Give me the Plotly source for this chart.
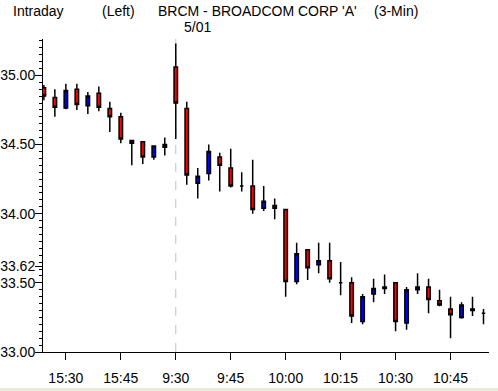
import plotly.graph_objects as go

# ---- data ----
idx = list(range(41))
opens = [34.91, 34.84, 34.765, 34.90, 34.78, 34.87, 34.76, 34.70, 34.53, 34.52, 34.41, 34.48,
         35.06, 34.76, 34.22, 34.29, 34.41, 34.33, 34.20, 34.20, 34.04, 34.06,
         34.03, 33.51, 33.74, 33.63, 33.66, 33.50, 33.50, 33.22, 33.42, 33.46,
         33.50, 33.21, 33.45, 33.47, 33.37, 33.31, 33.25, 33.31, 33.28]
highs = [34.93, 34.90, 34.94, 34.94, 34.88, 34.92, 34.81, 34.73, 34.53, 34.52, 34.49, 34.55,
         35.23, 34.81, 34.33, 34.50, 34.44, 34.47, 34.30, 34.39, 34.20, 34.11,
         34.03, 33.79, 33.74, 33.79, 33.79, 33.65, 33.54, 33.42, 33.53, 33.56,
         33.50, 33.47, 33.57, 33.53, 33.45, 33.40, 33.36, 33.40, 33.31]
lows = [34.82, 34.70, 34.755, 34.75, 34.72, 34.74, 34.59, 34.51, 34.35, 34.36, 34.39, 34.42,
        34.54, 34.21, 34.11, 34.24, 34.16, 34.19, 34.16, 34.00, 34.02, 33.96,
        33.40, 33.49, 33.52, 33.57, 33.50, 33.41, 33.21, 33.20, 33.36, 33.42,
        33.15, 33.16, 33.42, 33.28, 33.33, 33.10, 33.24, 33.26, 33.20]
closes = [34.85, 34.77, 34.89, 34.79, 34.85, 34.77, 34.70, 34.54, 34.51, 34.41, 34.49, 34.50,
          34.80, 34.28, 34.27, 34.45, 34.35, 34.20, 34.20, 34.03, 34.09, 34.04,
          33.51, 33.71, 33.61, 33.66, 33.53, 33.50, 33.26, 33.40, 33.46, 33.47,
          33.22, 33.45, 33.47, 33.38, 33.34, 33.27, 33.34, 33.30, 33.28]

x_tick_idx = [2, 7, 12, 17, 22, 27, 32, 37]
x_tick_text = ["15:30", "15:45", "9:30", "9:45", "10:00", "10:15", "10:30", "10:45"]
y_tick_vals = [33.00, 33.50, 33.62, 34.00, 34.50, 35.00]
y_tick_text = ["33.00", "33.50", "33.62", "34.00", "34.50", "35.00"]
day_break_idx = 12

FONT = "Liberation Sans, Arial, sans-serif"
FS = 14

W, H = 498, 391
L, R, T, B = 43, 9, 39, 39
PW, PH = W - L - R, H - T - B

Y_MIN, Y_MAX = 33.0, 35.263
minor_vals = [round(33.0 + 0.05 * k, 2) for k in range(46)]
minor_vals = [v for v in minor_vals if v <= Y_MAX and v not in y_tick_vals]


def px(xp):
    return (xp - L) / PW


def py(yp):
    return 1 - (yp - T) / PH


fig = go.Figure()
fig.add_trace(go.Candlestick(
    x=idx, open=opens, high=highs, low=lows, close=closes,
    increasing=dict(fillcolor="#0000ff", line=dict(color="black", width=1.5)),
    decreasing=dict(fillcolor="#ff0000", line=dict(color="black", width=1.5)),
    whiskerwidth=0, showlegend=False, hoverinfo="skip",
))

fig.add_shape(type="line", xref="x", yref="paper", x0=day_break_idx, x1=day_break_idx,
              y0=0, y1=1, line=dict(color="#c0c0c0", width=1, dash="dash"), layer="below")

# bottom scrollbar strip
fig.add_shape(type="rect", xref="paper", yref="paper", x0=px(0), x1=px(W), y0=py(H), y1=py(388),
              fillcolor="#ece9d8", line=dict(width=0), layer="above")

annots = [
    ("Intraday", 11, 11),
    ("(Left)", 100, 11),
    ("BRCM - BROADCOM CORP 'A'", 156, 11),
    ("(3-Min)", 372, 11),
    ("5/01", 182, 27.5),
]
for txt, xx, yy in annots:
    fig.add_annotation(text=txt, x=px(xx), y=py(yy), xref="paper", yref="paper",
                       xanchor="left", yanchor="middle", showarrow=False,
                       font=dict(family=FONT, size=FS, color="black"))

fig.update_layout(
    width=W, height=H,
    margin=dict(l=L, r=R, t=T, b=B, pad=0, autoexpand=False),
    paper_bgcolor="white", plot_bgcolor="white",
    boxgap=0.55,
    font=dict(family=FONT, size=FS, color="black"),
    xaxis=dict(
        range=[-0.08, 40.5], rangeslider=dict(visible=False), automargin=False,
        tickmode="array", tickvals=x_tick_idx, ticktext=x_tick_text,
        ticks="outside", ticklen=7, tickwidth=1, tickcolor="black",
        showgrid=False, zeroline=False, showline=True, linecolor="black", linewidth=1,
        tickfont=dict(family=FONT, size=FS, color="black"),
        ticklabelstandoff=6,
    ),
    yaxis=dict(
        range=[Y_MIN, Y_MAX], automargin=False,
        tickmode="array", tickvals=y_tick_vals, ticktext=y_tick_text,
        ticks="outside", ticklen=7, tickwidth=1, tickcolor="black",
        minor=dict(tickmode="array", tickvals=minor_vals, ticks="outside", ticklen=3,
                   tickwidth=1, tickcolor="black", showgrid=False),
        showgrid=False, zeroline=False, showline=True, linecolor="black", linewidth=1,
        tickfont=dict(family=FONT, size=FS, color="black"),
        ticklabelstandoff=-3,
    ),
)

fig.write_html("out.html",
               config={"displayModeBar": False},
               post_script="document.body.style.margin='0';document.body.style.overflow='hidden';")
